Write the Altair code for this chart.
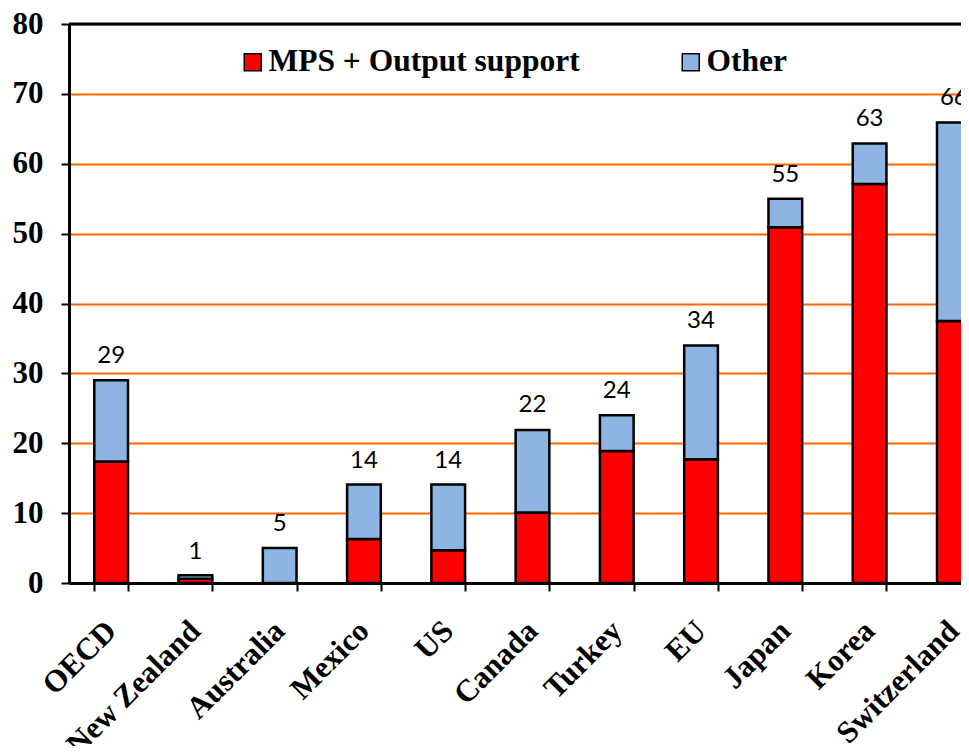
import altair as alt
import pandas as pd

countries = ["OECD", "New Zealand", "Australia", "Mexico", "US", "Canada",
             "Turkey", "EU", "Japan", "Korea", "Switzerland"]
mps = [17.4, 0.6, 0.0, 6.3, 4.7, 10.1, 18.9, 17.7, 50.9, 57.1, 37.5]
other = [11.6, 0.5, 5.0, 7.8, 9.4, 11.8, 5.1, 16.3, 4.1, 5.8, 28.4]
totals = [29, 1, 5, 14, 14, 22, 24, 34, 55, 63, 66]
series_names = ["MPS + Output support", "Other"]
series_colors = ["#FF0000", "#8EB4E3"]
y_ticks = [0, 10, 20, 30, 40, 50, 60, 70, 80]

rows = []
for c, a, b in zip(countries, mps, other):
    rows.append({"country": c, "series": series_names[0], "value": a})
    rows.append({"country": c, "series": series_names[1], "value": b})
bars_df = pd.DataFrame(rows)
tot_df = pd.DataFrame({"country": countries, "total": totals})
top_df = pd.DataFrame({"y": [80]})

xscale = alt.Scale(domain=countries, range=[0, 927], paddingInner=0.6, paddingOuter=0.3)
yscale = alt.Scale(domain=[0, 80], nice=False)

xaxis = alt.Axis(title=None, labelAngle=-45, labelFont="Liberation Serif",
                 labelFontSize=31, labelFontWeight="bold", labelColor="black",
                 labelAlign="right", labelBaseline="middle",
                 tickBand="extent", tickSize=8, tickWidth=2, tickColor="black",
                 domainColor="black", domainWidth=3, labelPadding=35,
                 grid=False, labelLimit=400, labelOverlap=False)
yaxis = alt.Axis(title=None, values=y_ticks, labelFont="Liberation Serif",
                 labelFontSize=31, labelFontWeight="bold", labelColor="black",
                 domainColor="black", domainWidth=3, tickColor="black",
                 tickWidth=2, tickSize=8, gridColor="#FF6600", gridWidth=2,
                 labelPadding=18)

bars = alt.Chart(bars_df).mark_bar(stroke="black", strokeWidth=2.5).encode(
    x=alt.X("country:N", sort=countries, scale=xscale, axis=xaxis),
    y=alt.Y("sum(value):Q", scale=yscale, axis=yaxis, stack="zero"),
    color=alt.Color("series:N", scale=alt.Scale(domain=series_names, range=series_colors),
                    legend=alt.Legend(orient="none", legendX=168, legendY=22,
                                      direction="horizontal", title=None,
                                      symbolType="square", symbolSize=289,
                                      symbolStrokeColor="black", symbolStrokeWidth=1.5,
                                      symbolOpacity=1,
                                      labelFont="Liberation Serif", labelFontSize=31.5,
                                      labelFontWeight="bold", labelColor="black",
                                      labelLimit=500, columnPadding=95, labelOffset=0)),
    order=alt.Order("series_order:Q"),
).transform_calculate(
    series_order="datum.series == 'Other' ? 1 : 0"
)

labels = alt.Chart(tot_df).mark_text(font="Lato", fontSize=24, baseline="bottom",
                                     dy=-12, color="black").encode(
    x=alt.X("country:N", sort=countries, scale=xscale),
    y=alt.Y("total:Q", scale=yscale),
    text=alt.Text("total:Q"),
)

top_line = alt.Chart(top_df).mark_rule(color="black", strokeWidth=3).encode(
    y=alt.Y("y:Q", scale=yscale)
)

chart = alt.layer(bars, labels, top_line).properties(
    width=892, height=559,
    autosize=alt.AutoSizeParams(type="none"),
    padding={"left": 61, "top": 16, "right": 0, "bottom": 163},
).configure_view(stroke=None)

chart.save("out.html", embed_options={"renderer": "svg", "actions": False})
